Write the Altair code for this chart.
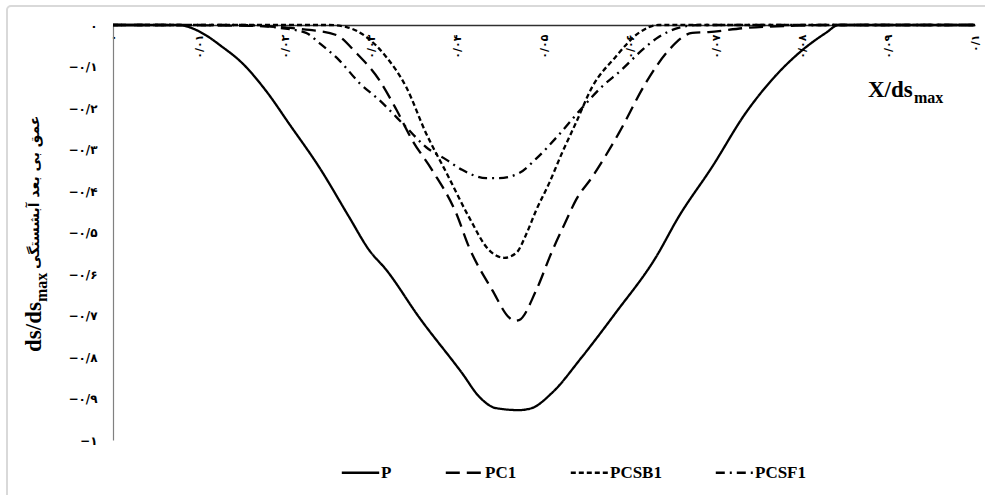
import json
import pandas as pd
import altair as alt

# ---- data (X/ds_max, ds/ds_max) ----
x_P = [0.0, 0.0077, 0.0092, 0.0108, 0.0125, 0.0150, 0.0178, 0.0205, 0.0239, 0.0274, 0.0297, 0.0317,
       0.0355, 0.0405, 0.0425, 0.0444, 0.0471, 0.0486, 0.0509, 0.0544, 0.0583, 0.0630, 0.0656,
       0.0695, 0.0734, 0.0764, 0.0796, 0.0827, 0.0842, 0.1]
y_P = [0.0, 0.0, -0.008, -0.025, -0.050, -0.092, -0.160, -0.240, -0.342, -0.463, -0.542, -0.590,
       -0.704, -0.839, -0.896, -0.923, -0.928, -0.923, -0.887, -0.800, -0.694, -0.559, -0.463,
       -0.342, -0.212, -0.133, -0.067, -0.019, 0.0, 0.0]

x_PC1 = [0.0, 0.0042, 0.0158, 0.0205, 0.0228, 0.0259, 0.0282, 0.0309, 0.0329, 0.0347, 0.0370,
         0.0398, 0.0413, 0.0440, 0.0460, 0.0465, 0.0471, 0.0491, 0.0509, 0.0526, 0.0537, 0.0556,
         0.0587, 0.0618, 0.0645, 0.0672, 0.0691, 0.0734, 0.0787, 0.0830, 0.1]
y_PC1 = [0.0, 0.0, -0.002, -0.007, -0.012, -0.024, -0.067, -0.133, -0.205, -0.277, -0.349,
         -0.453, -0.535, -0.639, -0.706, -0.713, -0.711, -0.639, -0.547, -0.470, -0.422, -0.366,
         -0.260, -0.140, -0.060, -0.019, -0.017, -0.007, -0.002, 0.0, 0.0]

x_PCSB1 = [0.0, 0.0251, 0.0271, 0.0294, 0.0317, 0.0340, 0.0363, 0.0387, 0.0413, 0.0436, 0.0454,
           0.0468, 0.0479, 0.0491, 0.0506, 0.0521, 0.0537, 0.0556, 0.0583, 0.0610, 0.0633, 0.1]
y_PCSB1 = [0.0, 0.0, -0.005, -0.029, -0.077, -0.149, -0.260, -0.357, -0.463, -0.542, -0.561,
           -0.549, -0.506, -0.446, -0.381, -0.308, -0.236, -0.149, -0.077, -0.019, 0.0, 0.0]

x_PCSF1 = [0.0, 0.0147, 0.0193, 0.0224, 0.0239, 0.0262, 0.0286, 0.0309, 0.0340, 0.0363, 0.0387,
           0.0405, 0.0433, 0.0448, 0.0471, 0.0491, 0.0517, 0.0544, 0.0567, 0.0590, 0.0614, 0.0633,
           0.0656, 0.0680, 0.1]
y_PCSF1 = [0.0, 0.0, -0.007, -0.019, -0.043, -0.084, -0.140, -0.181, -0.246, -0.294, -0.325,
           -0.349, -0.369, -0.369, -0.357, -0.322, -0.265, -0.200, -0.149, -0.108, -0.060, -0.029,
           -0.007, 0.0, 0.0]

series = ["P", "PC1", "PCSB1", "PCSF1"]
dash_styles = [[1, 0], [14, 7], [5, 3], [9, 5, 2, 5]]

x_ticks = [0, 0.01, 0.02, 0.03, 0.04, 0.05, 0.06, 0.07, 0.08, 0.09, 0.1]
x_labels = ["۰", "۰/۰۱", "۰/۰۲", "۰/۰۳", "۰/۰۴", "۰/۰۵", "۰/۰۶", "۰/۰۷", "۰/۰۸", "۰/۰۹", "۰/۱"]
y_ticks = [0, -0.1, -0.2, -0.3, -0.4, -0.5, -0.6, -0.7, -0.8, -0.9, -1]
y_labels = ["۰", "−۰/۱", "−۰/۲", "−۰/۳", "−۰/۴", "−۰/۵", "−۰/۶", "−۰/۷", "−۰/۸", "−۰/۹", "−۱"]

y_title_fa = "عمق بی بعد آبشستگی"

# ---- build table ----
rows = []
for name, xs, ys in [("P", x_P, y_P), ("PC1", x_PC1, y_PC1),
                     ("PCSB1", x_PCSB1, y_PCSB1), ("PCSF1", x_PCSF1, y_PCSF1)]:
    for i, (xv, yv) in enumerate(zip(xs, ys)):
        rows.append({"x": xv, "y": yv, "s": name, "o": i})
df = pd.DataFrame(rows)

W, H = 862, 415
SERIF = "Liberation Serif, Times New Roman, DejaVu Serif"

x_expr = json.dumps(x_labels, ensure_ascii=False) + "[round(datum.value*100)]"
y_expr = json.dumps(y_labels, ensure_ascii=False) + "[round(-datum.value*10)]"

lines = alt.Chart(df).mark_line(color="black", strokeWidth=2.3, interpolate="monotone").encode(
    x=alt.X("x:Q", scale=alt.Scale(domain=[0, 0.1], nice=False),
            axis=alt.Axis(orient="bottom", offset=-H, values=x_ticks, labelExpr=x_expr,
                          labelAngle=270, ticks=False, grid=False, title=None,
                          labelFontSize=11, labelFontWeight="bold", labelColor="black",
                          labelPadding=9, domainColor="#303030", domainWidth=1.6,
                          labelFont="DejaVu Sans")),
    y=alt.Y("y:Q", scale=alt.Scale(domain=[-1, 0], nice=False),
            axis=alt.Axis(values=y_ticks, labelExpr=y_expr, ticks=False, grid=False, title=None,
                          labelFontSize=12, labelFontWeight="bold", labelColor="black",
                          labelPadding=16, domainColor="#808080", domainWidth=1.2,
                          labelFont="DejaVu Sans")),
    strokeDash=alt.StrokeDash("s:N", scale=alt.Scale(domain=series, range=dash_styles),
                              legend=alt.Legend(orient="none", legendX=227, legendY=427,
                                                direction="horizontal", title=None,
                                                symbolType="stroke", symbolSize=1400,
                                                symbolStrokeWidth=2.6, symbolStrokeColor="black",
                                                labelFont=SERIF, labelFontSize=17,
                                                labelFontWeight="bold", labelColor="black",
                                                labelOffset=0, columnPadding=48, padding=0)),
    order="o:Q",
)

one = alt.Data(values=[{"k": 1}])

border = alt.Chart(one).mark_rect(filled=False, stroke="#d9d9d9", strokeWidth=2, cornerRadius=4).encode(
    x=alt.value(-106), x2=alt.value(885), y=alt.value(-19), y2=alt.value(480))

xt1 = alt.Chart(one).mark_text(text="X/ds", font=SERIF, fontSize=23, fontWeight="bold",
                               align="left", baseline="alphabetic", color="black").encode(
    x=alt.value(755), y=alt.value(72))
xt2 = alt.Chart(one).mark_text(text="max", font=SERIF, fontSize=16, fontWeight="bold",
                               align="left", baseline="alphabetic", color="black").encode(
    x=alt.value(801), y=alt.value(78))

yt1 = alt.Chart(one).mark_text(text="ds/ds", font=SERIF, fontSize=23, fontWeight="bold",
                               align="left", baseline="alphabetic", angle=270, color="black").encode(
    x=alt.value(-72), y=alt.value(327))
yt2 = alt.Chart(one).mark_text(text="max", font=SERIF, fontSize=16, fontWeight="bold",
                               align="left", baseline="alphabetic", angle=270, color="black").encode(
    x=alt.value(-66), y=alt.value(277))
yt3 = alt.Chart(one).mark_text(text=y_title_fa, font="DejaVu Sans", fontSize=14, fontWeight="bold",
                               align="left", baseline="alphabetic", angle=270, color="black").encode(
    x=alt.value(-74), y=alt.value(244))

chart = alt.layer(border, lines, xt1, xt2, yt1, yt2, yt3).properties(
    width=W, height=H,
    autosize=alt.AutoSizeParams(type="none"),
    padding={"left": 113, "top": 25, "right": 10, "bottom": 55},
    background="white",
).configure_view(stroke="transparent")

chart.save("out.html", embed_options={"renderer": "svg", "actions": False})
